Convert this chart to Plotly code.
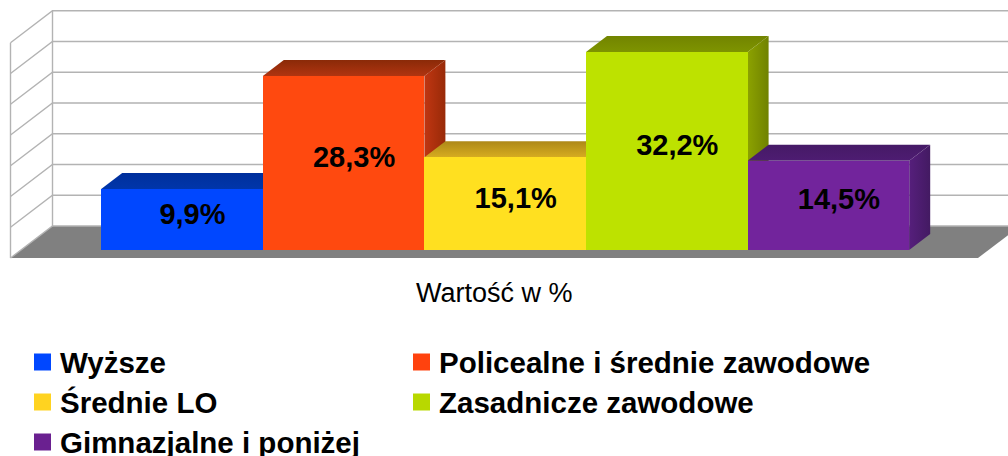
import plotly.graph_objects as go

categories = ["Wyższe", "Policealne i średnie zawodowe", "Średnie LO", "Zasadnicze zawodowe", "Gimnazjalne i poniżej"]
values = [9.9, 28.3, 15.1, 32.2, 14.5]
labels = ["9,9%", "28,3%", "15,1%", "32,2%", "14,5%"]
ticks = [0, 5, 10, 15, 20, 25, 30, 35]
front_colors = ["#0047ff", "#ff490f", "#ffe020", "#bde200", "#72249c"]
legend_colors = ["#0047ff", "#ff420e", "#ffd320", "#b8d800", "#6a2090"]
top_back = ["#002f9c", "#8a2a08", "#ad8818", "#728400", "#451a66"]
top_front = ["#0036aa", "#b03410", "#d6ac20", "#7e9400", "#4e1c72"]
side_left = ["#0036aa", "#c03612", "#d6ac20", "#8ca200", "#561f7c"]
side_right = ["#002f9c", "#982a08", "#ad8818", "#708200", "#431a62"]
axis_title = "Wartość w %"

W, H = 1008, 456
XPX, X0 = 161.6, 182.0      # pixels per category, centre of the first one
YPX, Y0 = 6.15, 250.0       # pixels per percent, baseline of the bar fronts
DX, DY = 21.0 / XPX, 16.0 / YPX   # depth of one bar in data units
xr = [(0 - X0) / XPX, (W - X0) / XPX]
yr = [(Y0 - H) / YPX, Y0 / YPX]
WALL_L, WALL_R = (21.0 - X0) / XPX, (988.5 - X0) / XPX
GRID = "#b3b3b3"


def pr(x, v, z):
    """Project a point: z is depth in bar depths (0 front of bar, 1 back of bar)."""
    return x + z * DX, v + z * DY


def poly(points, **kw):
    xs, ys = zip(*points)
    return go.Scatter(x=list(xs) + [xs[0]], y=list(ys) + [ys[0]], mode="lines", fill="toself",
                      line=dict(width=0), hoverinfo="skip", showlegend=False, **kw)


def seg(points, width=1.4):
    xs, ys = zip(*points)
    return go.Scatter(x=xs, y=ys, mode="lines", line=dict(color=GRID, width=width),
                      hoverinfo="skip", showlegend=False)


fig = go.Figure()
Z0, Z1 = -0.5, 1.5
fig.add_trace(poly([pr(WALL_L, 0, Z0), pr(WALL_R, 0, Z0), pr(WALL_R, 0, Z1), pr(WALL_L, 0, Z1)], fillcolor="#808080"))
for t in ticks:
    fig.add_trace(seg([pr(WALL_L, t, Z0), pr(WALL_L, t, Z1), pr(WALL_R, t, Z1)]))
fig.add_trace(seg([pr(WALL_L, 0, Z0), pr(WALL_L, ticks[-1], Z0)]))
fig.add_trace(seg([pr(WALL_L, 0, Z1), pr(WALL_L, ticks[-1], Z1)]))
for i, v in enumerate(values):
    l, r = i - 0.5, i + 0.5
    fig.add_trace(poly([pr(r, 0, 0), pr(r, 0, 1), pr(r, v, 1), pr(r, v, 0)],
                       fillgradient=dict(type="horizontal",
                                         colorscale=[[0, side_left[i]], [1, side_right[i]]])))
    fig.add_trace(poly([pr(l, v, 0), pr(r, v, 0), pr(r, v, 1), pr(l, v, 1)],
                       fillgradient=dict(type="vertical",
                                         colorscale=[[0, top_front[i]], [1, top_back[i]]])))

idx = list(range(len(values)))
fig.add_trace(go.Bar(x=idx, y=values, width=1, marker=dict(color=front_colors, line=dict(width=0)),
                     hovertext=categories, showlegend=False, xaxis="x2", yaxis="y2"))
fig.add_trace(go.Scatter(x=[i + DX / 2 for i in idx], y=[v / 2 + DY * 0.2 for v in values], mode="text", text=labels,
                         textposition="middle center", hoverinfo="skip", showlegend=False,
                         textfont=dict(family="Liberation Sans", size=29, color="#000000", weight="bold"),
                         xaxis="x2", yaxis="y2"))

shapes, annotations = [], []
annotations.append(dict(x=494 / W, y=1 - 293 / H, xref="paper", yref="paper", text=axis_title, showarrow=False,
                        font=dict(family="Liberation Sans", size=27, color="#000000")))
for i, name in enumerate(categories):
    col, row = i % 2, i // 2
    sx = [34, 413][col]
    ty = [362, 402, 442][row]
    shapes.append(dict(type="rect", xref="paper", yref="paper", x0=sx / W, x1=(sx + 17) / W,
                       y0=1 - (ty + 8.5) / H, y1=1 - (ty - 8.5) / H,
                       fillcolor=legend_colors[i], line=dict(width=0)))
    annotations.append(dict(x=(sx + 24) / W, y=1 - ty / H, xref="paper", yref="paper", text=f"<b>{name}</b>",
                            showarrow=False, xanchor="left", yanchor="middle",
                            font=dict(family="Liberation Sans", size=29.5, color="#000000")))

axis = dict(visible=False, fixedrange=True)
fig.update_layout(
    width=W, height=H, margin=dict(l=0, r=0, t=0, b=0), paper_bgcolor="#ffffff", plot_bgcolor="#ffffff",
    showlegend=False, barmode="overlay", bargap=0,
    xaxis=dict(range=xr, domain=[0, 1], **axis), yaxis=dict(range=yr, domain=[0, 1], **axis),
    xaxis2=dict(range=xr, overlaying="x", **axis), yaxis2=dict(range=yr, overlaying="y", **axis),
    shapes=shapes, annotations=annotations,
)
fig.write_html("out.html", config=dict(displayModeBar=False),
               post_script="document.body.style.margin='0';document.documentElement.style.overflow='hidden';")
